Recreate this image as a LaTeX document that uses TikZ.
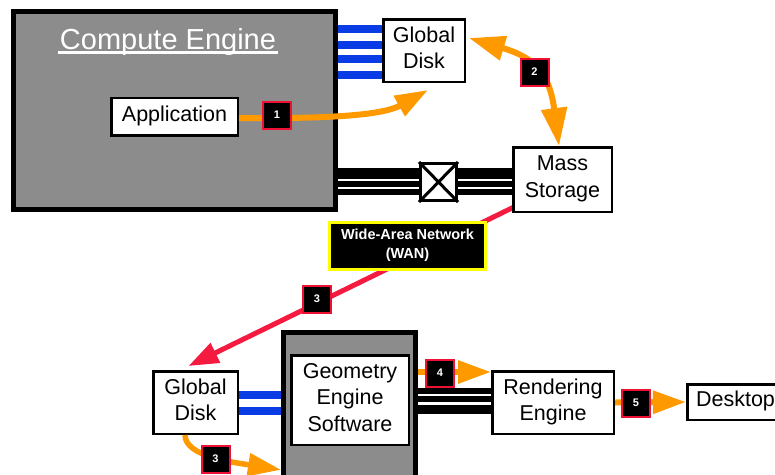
\documentclass[tikz,border=0pt]{standalone}
\usepackage{fontspec}
\setmainfont{Liberation Sans}
\usetikzlibrary{arrows.meta,calc}
\pgfdeclarelayer{bg}
\pgfsetlayers{bg,main}

\definecolor{ceGrey}{HTML}{8C8C8C}
\definecolor{flowOrange}{HTML}{FF9900}
\definecolor{wanRed}{HTML}{F51A40}
\definecolor{badgeRed}{HTML}{EE1133}
\definecolor{busBlue}{HTML}{0A3CE6}
\definecolor{wanYellow}{HTML}{FFFF00}

\begin{document}
\begin{tikzpicture}[x=1pt,y=-1pt,
  box/.style={draw=black, line width=2.5pt, fill=white, inner sep=0pt,
    align=center, text depth=6pt, font=\fontsize{21.5}{26.5}\selectfont},
  engine/.style={draw=black, line width=5pt, fill=ceGrey, inner sep=0pt},
  badge/.style={draw=badgeRed, line width=2pt, fill=black, text=white,
    inner sep=0pt, minimum width=28pt, minimum height=27pt,
    font=\bfseries\fontsize{11}{12}\selectfont},
  flow/.style={draw=flowOrange, line width=6pt,
    -{Triangle[length=33pt,width=22pt]}},
  bus/.style={draw=busBlue, line width=8pt},
]
\useasboundingbox (0,0) rectangle (775,474);
\clip (0,0) rectangle (775,474);

% --- compute engine and its attached devices
\node[engine, minimum width=322pt, minimum height=198pt] (ce) at (174.5,110.5) {};
\node[text=white, inner sep=0pt, anchor=base,
  font=\fontsize{29}{32}\selectfont] (title) at (168,49) {Compute Engine};
\draw[white, line width=2.2pt] ($(title.base west)+(-2,3.5)$) -- ($(title.base east)+(2,3.5)$);
\node[box, minimum width=126.5pt, minimum height=37.5pt] (app) at (174.5,116.5) {Application};
\node[box, minimum width=81.5pt, minimum height=62.5pt] (gd1) at (424,50.5) {Global\\Disk};
\node[draw=black, line width=3pt, fill=white, inner sep=0pt,
  minimum width=36pt, minimum height=37pt] (xb) at (438.5,182) {};
\draw[line width=3pt] (xb.north west) -- (xb.south east)
                      (xb.north east) -- (xb.south west);
\node[box, minimum width=98.5pt, minimum height=64.5pt] (ms) at (562.5,179.5) {Mass\\Storage};

% --- visualization side
\node[box, minimum width=84.5pt, minimum height=62.5pt] (gd2) at (195.5,402.5) {Global\\Disk};
\node[engine, minimum width=132pt, minimum height=162.5pt] (ge) at (349.5,413.75) {};
\node[box, minimum width=117.5pt, minimum height=89.5pt] (ges) at (350,400) {Geometry\\Engine\\Software};
\node[box, minimum width=121.5pt, minimum height=62.5pt] (re) at (553,402.5) {Rendering\\Engine};
\node[box, minimum width=96.5pt, minimum height=35.5pt] (dt) at (735.5,402) {Desktop};

% --- disk buses
\foreach \y in {29,44.5,59,75}
  \draw[bus] (ce.east |- 0,\y) -- (gd1.west |- 0,\y);
\foreach \y in {394.5,411}
  \draw[bus] (gd2.east |- 0,\y) -- (ge.west |- 0,\y);

% --- storage channels
\foreach \y/\w in {173.5/11pt,184/5.5pt,192/5.5pt} {
  \draw[line width=\w] (ce.east |- 0,\y) -- (xb.west |- 0,\y);
  \draw[line width=\w] (xb.east |- 0,\y) -- (ms.west |- 0,\y);
}
\foreach \y/\w in {391/5.7pt,399/6pt,409.5/9pt}
  \draw[line width=\w] (ge.east |- 0,\y) -- (re.west |- 0,\y);

% --- wide-area network link
\begin{pgfonlayer}{bg}
  \draw[draw=wanRed, line width=5pt, -{Triangle[length=30pt,width=21pt]}]
    ($(ms.south west)+(2,-6)$) -- ($(gd2.north)+(-7,-4)$);
\end{pgfonlayer}
\node[draw=wanYellow, line width=3pt, fill=black, text=white, inner sep=0pt,
  minimum width=156pt, minimum height=47pt, align=center,
  font=\bfseries\fontsize{14.5}{19}\selectfont] (wan) at (407.5,245.5)
  {Wide-Area Network\\(WAN)};

% --- data flow
\draw[flow] ($(app.east)+(0,1.5)$) .. controls ($(app.east)+(101,2.5)$) and ($(gd1.south)+(-39,31)$) .. ($(gd1.south)+(4,7)$);
\draw[draw=flowOrange, line width=6pt,
  {Triangle[length=36pt,width=24pt]}-{Triangle[length=38pt,width=25pt]}]
  ($(gd1.east)+(3,-12.5)$) .. controls ($(gd1.east)+(68.5,7)$) and ($(ms.north)+(-13,-73)$) .. ($(ms.north)+(-3.5,0)$);
\draw[flow, line width=5.5pt] ($(gd2.south)+(-10.5,0)$) .. controls ($(gd2.south)+(-10.5,22)$) and ($(ge.west)+(-45,49)$) .. ($(ge.west)+(0,56)$);
\draw[flow] (ge.east |- 0,372) -- (re.west |- 0,372);
\draw[flow] (re.east) -- (dt.west);

% --- step badges
\node[badge] (b1) at (277,115) {1};
\node[badge] (b2) at (534.5,72) {2};
\node[badge] (b3a) at (317,299) {3};
\node[badge] (b3b) at (215.5,459) {3};
\node[badge] (b4) at (440,373) {4};
\node[badge] (b5) at (636,403) {5};
\end{tikzpicture}
\end{document}
